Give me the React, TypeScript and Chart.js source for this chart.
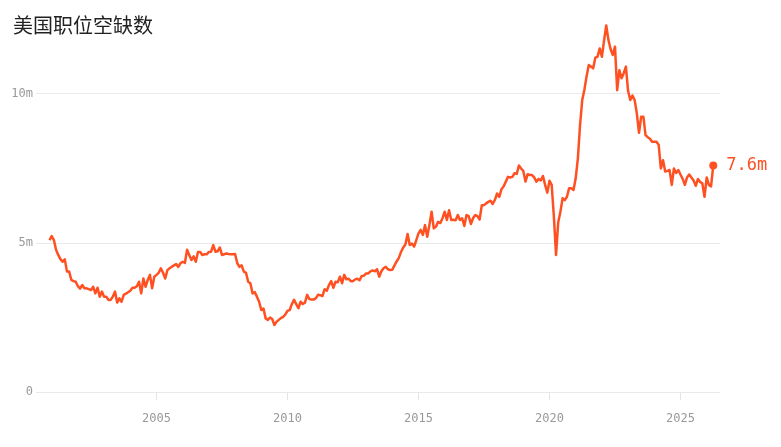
import { useEffect, useRef } from "react";
import { Chart, registerables } from "chart.js";

Chart.register(...registerables);

const TITLE = "美国职位空缺数";
const START_YEAR = 2000;
const START_MONTH = 12;

// Job openings, millions, monthly
const v2000 = [5.1];
const v2001 = [5.23, 5.1, 4.77, 4.6, 4.46, 4.37, 4.45, 4.04, 4.04, 3.76, 3.72, 3.7];
const v2002 = [3.55, 3.47, 3.59, 3.48, 3.48, 3.45, 3.42, 3.53, 3.31, 3.5, 3.2, 3.37];
const v2003 = [3.2, 3.2, 3.09, 3.09, 3.2, 3.37, 3.0, 3.14, 3.03, 3.26, 3.3, 3.35];
const v2004 = [3.4, 3.5, 3.5, 3.55, 3.7, 3.31, 3.81, 3.53, 3.76, 3.93, 3.48, 3.87];
const v2005 = [3.93, 4.0, 4.15, 4.0, 3.81, 4.09, 4.15, 4.2, 4.25, 4.29, 4.2, 4.32];
const v2006 = [4.37, 4.33, 4.77, 4.6, 4.43, 4.55, 4.37, 4.7, 4.7, 4.6, 4.62, 4.62];
const v2007 = [4.7, 4.71, 4.93, 4.71, 4.72, 4.85, 4.6, 4.62, 4.65, 4.63, 4.62, 4.62];
const v2008 = [4.63, 4.32, 4.2, 4.25, 4.04, 4.0, 3.7, 3.65, 3.31, 3.35, 3.2, 3.03];
const v2009 = [2.75, 2.8, 2.47, 2.42, 2.5, 2.45, 2.25, 2.36, 2.42, 2.48, 2.52, 2.6];
const v2010 = [2.72, 2.75, 2.95, 3.09, 2.95, 2.81, 3.03, 2.95, 3.0, 3.26, 3.12, 3.1];
const v2011 = [3.1, 3.15, 3.26, 3.25, 3.22, 3.45, 3.4, 3.59, 3.72, 3.5, 3.7, 3.68];
const v2012 = [3.87, 3.65, 3.93, 3.78, 3.8, 3.72, 3.72, 3.78, 3.8, 3.75, 3.89, 3.9];
const v2013 = [3.98, 3.98, 4.05, 4.08, 4.05, 4.12, 3.87, 4.05, 4.15, 4.2, 4.12, 4.09];
const v2014 = [4.1, 4.25, 4.38, 4.5, 4.7, 4.85, 4.95, 5.3, 4.93, 4.98, 4.88, 5.1];
const v2015 = [5.32, 5.44, 5.27, 5.6, 5.21, 5.6, 6.05, 5.49, 5.55, 5.71, 5.67, 5.83];
const v2016 = [6.05, 5.77, 6.1, 5.77, 5.78, 5.76, 5.94, 5.77, 5.83, 5.57, 5.94, 5.9];
const v2017 = [5.64, 5.83, 5.94, 5.9, 5.79, 6.27, 6.27, 6.33, 6.38, 6.42, 6.31, 6.45];
const v2018 = [6.66, 6.55, 6.8, 6.9, 7.06, 7.22, 7.2, 7.22, 7.34, 7.32, 7.6, 7.5];
const v2019 = [7.42, 7.06, 7.31, 7.28, 7.28, 7.2, 7.06, 7.15, 7.1, 7.25, 6.95, 6.69];
const v2020 = [7.09, 6.95, 5.9, 4.6, 5.7, 6.05, 6.5, 6.44, 6.55, 6.84, 6.84, 6.78];
const v2021 = [7.17, 7.84, 8.96, 9.8, 10.15, 10.6, 10.97, 10.92, 10.86, 11.22, 11.25, 11.53];
const v2022 = [11.25, 11.8, 12.3, 11.81, 11.5, 11.31, 11.59, 10.13, 10.8, 10.53, 10.7, 10.92];
const v2023 = [10.1, 9.8, 9.95, 9.8, 9.35, 8.7, 9.24, 9.24, 8.62, 8.55, 8.5, 8.4];
const v2024 = [8.4, 8.4, 8.3, 7.5, 7.78, 7.4, 7.42, 7.45, 6.95, 7.5, 7.35, 7.45];
const v2025 = [7.3, 7.15, 6.95, 7.2, 7.3, 7.2, 7.1, 6.92, 7.15, 7.05, 7.0, 6.55];
const v2026 = [7.2, 6.95, 6.9, 7.6];

const openings = [
  ...v2000, ...v2001, ...v2002, ...v2003, ...v2004, ...v2005, ...v2006,
  ...v2007, ...v2008, ...v2009, ...v2010, ...v2011, ...v2012, ...v2013,
  ...v2014, ...v2015, ...v2016, ...v2017, ...v2018, ...v2019, ...v2020,
  ...v2021, ...v2022, ...v2023, ...v2024, ...v2025, ...v2026,
];

const xTicks = [2005, 2010, 2015, 2020, 2025];
const xTickLabels = ["2005", "2010", "2015", "2020", "2025"];
const yTicks = [0, 5, 10];
const yTickLabels = ["0", "5m", "10m"];

const LINE_COLOR = "#ff5022";
const MONO = '"DejaVu Sans Mono", monospace';

export default function App() {
  const ref = useRef<HTMLCanvasElement | null>(null);

  useEffect(() => {
    if (!ref.current) return;
    const points = openings.map((v, i) => ({
      x: START_YEAR + (START_MONTH - 1 + i) / 12,
      y: v,
    }));
    const n = points.length;

    const titlePlugin = {
      id: "titleText",
      afterDraw(chart: any) {
        const ctx = chart.ctx;
        ctx.save();
        ctx.font = '20px "Noto Sans CJK SC", sans-serif';
        ctx.fillStyle = "#222";
        ctx.textBaseline = "middle";
        ctx.textAlign = "left";
        ctx.fillText(TITLE, 13, 25);
        ctx.restore();
      },
    };

    const endLabel = {
      id: "endLabel",
      afterDatasetsDraw(chart: any) {
        const meta = chart.getDatasetMeta(0);
        const pt = meta.data[n - 1];
        if (!pt) return;
        const ctx = chart.ctx;
        ctx.save();
        ctx.font = "17px " + MONO;
        ctx.fillStyle = LINE_COLOR;
        ctx.textBaseline = "middle";
        ctx.textAlign = "left";
        ctx.fillText(openings[n - 1].toFixed(1) + "m", pt.x + 13, pt.y);
        ctx.restore();
      },
    };

    const chart = new Chart(ref.current, {
      type: "line",
      data: {
        datasets: [
          {
            data: points,
            borderColor: LINE_COLOR,
            backgroundColor: LINE_COLOR,
            borderWidth: 2.5,
            borderJoinStyle: "round",
            tension: 0,
            pointRadius: (c: any) => (c.dataIndex === n - 1 ? 4 : 0),
            pointHoverRadius: 0,
            pointBorderWidth: 0,
          },
        ],
      },
      options: {
        responsive: false,
        animation: false,
        events: [],
        layout: { padding: { top: 19.5, right: 61, left: 0, bottom: 0 } },
        plugins: {
          legend: { display: false },
          tooltip: { enabled: false },
          title: { display: false },
        },
        scales: {
          x: {
            type: "linear",
            min: 2000.401,
            max: 2026.508,
            afterBuildTicks: (s: any) => {
              s.ticks = xTicks.map((v) => ({ value: v }));
            },
            afterFit: (s: any) => {
              s.height = 55;
            },
            grid: {
              drawOnChartArea: false,
              drawTicks: true,
              tickLength: 8,
              color: "#e3e3e3",
              lineWidth: 1,
            },
            border: { display: false },
            ticks: {
              padding: 12,
              color: "#999",
              font: { family: MONO, size: 12 },
              maxRotation: 0,
              autoSkip: false,
              callback: (v: any) => {
                const i = xTicks.indexOf(Number(v));
                return i >= 0 ? xTickLabels[i] : "";
              },
            },
          },
          y: {
            type: "linear",
            min: 0,
            max: 12.5,
            afterBuildTicks: (s: any) => {
              s.ticks = yTicks.map((v) => ({ value: v }));
            },
            afterFit: (s: any) => {
              s.width = 36;
            },
            grid: {
              drawTicks: false,
              color: "#e9e9e9",
              lineWidth: 1,
            },
            border: { display: false },
            ticks: {
              padding: 3,
              color: "#999",
              font: { family: MONO, size: 12 },
              callback: (v: any) => {
                const i = yTicks.indexOf(Number(v));
                return i >= 0 ? yTickLabels[i] : "";
              },
            },
          },
        },
      },
      plugins: [titlePlugin, endLabel],
    });
    return () => chart.destroy();
  }, []);

  return (
    <div style={{ position: "fixed", left: 0, top: 0, width: 781, height: 447, background: "#fff" }}>
      <canvas ref={ref} width={781} height={447} style={{ display: "block", width: 781, height: 447 }} />
    </div>
  );
}
